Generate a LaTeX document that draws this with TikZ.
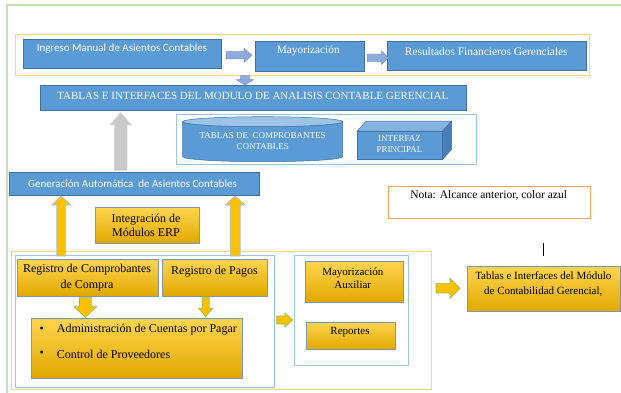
\documentclass[tikz,border=0pt]{standalone}
\usepackage{fontspec}
\setmainfont{Liberation Serif}
\newfontfamily\calib{Carlito}
\definecolor{boxblue}{HTML}{5B9BD5}
\definecolor{boxedge}{HTML}{41719C}
\definecolor{cyltop}{HTML}{9DC3E6}
\definecolor{cubetop}{HTML}{86B4E0}
\definecolor{cubeside}{HTML}{4A7EBB}
\definecolor{frameyel}{HTML}{FFD966}
\definecolor{framegreen}{HTML}{C5E0B4}
\definecolor{frameblue}{HTML}{9DC3E6}
\definecolor{arrblue}{HTML}{8FAADC}
\definecolor{arrblueedge}{HTML}{7393CF}
\definecolor{gold}{HTML}{FFC000}
\definecolor{goldtop}{HTML}{FFD54F}
\definecolor{goldbot}{HTML}{E0A800}
\definecolor{goldedge}{HTML}{7F95B5}
\definecolor{greenedge}{HTML}{8CC152}
\definecolor{notaedge}{HTML}{F4A460}
\definecolor{grayfill}{HTML}{C9C9C9}
\definecolor{grayedge}{HTML}{DDDDDD}
\newcommand{\blockR}[7]{\draw[#1] (#2,#5-#6) -- (#3,#5-#6) -- (#3,#5-#7) -- (#4,#5) -- (#3,#5+#7) -- (#3,#5+#6) -- (#2,#5+#6) -- cycle;}
\newcommand{\blockV}[7]{\draw[#1] (#5-#6,#2) -- (#5-#6,#3) -- (#5-#7,#3) -- (#5,#4) -- (#5+#7,#3) -- (#5+#6,#3) -- (#5+#6,#2) -- cycle;}
\tikzset{
  bluebox/.style={draw=boxedge, fill=boxblue, line width=0.6pt, inner sep=0pt},
  goldbox/.style={draw=goldedge, top color=goldtop, middle color=gold, bottom color=goldbot, line width=0.6pt, inner sep=0pt},
  txt/.style={inner sep=0pt, align=center},
  wtxt/.style={txt, text=white},
  yframe/.style={draw=frameyel, line width=0.9pt},
  bframe/.style={draw=frameblue, line width=0.9pt},
  bluearr/.style={fill=arrblue, draw=arrblueedge, line width=0.5pt},
  grayarr/.style={fill=grayfill, draw=grayedge, line width=0.6pt},
  goldup/.style={fill=gold, draw=frameblue, line width=0.7pt},
  greenarr/.style={fill=gold, draw=greenedge, line width=0.7pt}
}
\begin{document}
\begin{tikzpicture}[x=1pt,y=-1pt]
\useasboundingbox (0,0) rectangle (621,392);
\clip (0,0) rectangle (621,392);
% outer green frame
\draw[draw=framegreen, line width=1.5pt] (7,5) rectangle (640,400);
% top yellow frame
\draw[yframe] (15.7,34.7) rectangle (589.7,75);

\node[bluebox, minimum width=198pt, minimum height=29.7pt] (ingreso) at (122,53.85) {};
\node[wtxt, font=\calib\fontsize{11}{13}\selectfont] (ingresoT) at (122,49) {Ingreso Manual de Asientos Contables};
\node[bluebox, minimum width=109pt, minimum height=30.7pt] (mayor) at (309.5,56.35) {};
\node[wtxt, font=\fontsize{11.3}{13}\selectfont] (mayorT) at (308.3,50.7) {Mayorización};
\node[bluebox, minimum width=198.3pt, minimum height=29.4pt] (result) at (486.85,56) {};
\node[wtxt, font=\fontsize{11.4}{13}\selectfont] (resultT) at (486.3,51.7) {Resultados Financieros Gerenciales};

\blockR{bluearr}{226}{244}{252}{55.3}{3.6}{7}
\blockR{bluearr}{367}{381.5}{388.3}{57.7}{3.6}{6.7}
\blockV{bluearr}{75.5}{79.5}{85}{245}{4.3}{8.6}

\node[bluebox, minimum width=426pt, minimum height=24.3pt] (tablas) at (253.7,97.85) {};
\node[wtxt, font=\fontsize{11}{13}\selectfont] (tablasT) at (252.8,96) {TABLAS E INTERFACES DEL MODULO DE ANALISIS CONTABLE GERENCIAL};

% gray arrow
\blockV{grayarr}{170.7}{125}{112.3}{120.7}{6.35}{10.85}

% light blue frame with cylinder and cube
\draw[bframe] (176.7,114) rectangle (476,164.3);
\filldraw[fill=boxblue, draw=boxedge, line width=0.5pt] (182.7,121.7) -- (182.7,156.7) arc[start angle=180, end angle=0, x radius=80, y radius=5] -- (342.7,121.7) arc[start angle=0, end angle=180, x radius=80, y radius=5] -- cycle;
\filldraw[fill=cyltop, draw=boxedge, line width=0.5pt] (262.7,121.7) ellipse [x radius=80, y radius=5];
\node[wtxt, font=\fontsize{9}{11}\selectfont] (cylT) at (262.7,141.2) {TABLAS DE\ \ COMPROBANTES\\CONTABLES};

\filldraw[fill=boxblue, draw=boxedge, line width=0.5pt] (357.3,131) rectangle (442.7,159.3);
\filldraw[fill=cubetop, draw=boxedge, line width=0.5pt] (357.3,131) -- (366.3,121) -- (451.7,121) -- (442.7,131) -- cycle;
\filldraw[fill=cubeside, draw=boxedge, line width=0.5pt] (442.7,131) -- (451.7,121) -- (451.7,149.3) -- (442.7,159.3) -- cycle;
\node[wtxt, font=\fontsize{9}{11}\selectfont] (cubeT) at (399.5,143.8) {INTERFAZ\\PRINCIPAL};

% generation bar
\node[bluebox, minimum width=250pt, minimum height=23.4pt] (gen) at (134,184) {};
\node[wtxt, font=\calib\fontsize{11}{13}\selectfont] (genT) at (132.5,183.3) {Generación Automática\ \ de Asientos Contables};

\node[goldbox, minimum width=104.3pt, minimum height=35.6pt] (integ) at (147.15,225.5) {};
\node[txt, font=\fontsize{12}{14}\selectfont] (integT) at (146,225.3) {Integración de\\Módulos ERP};

% nota
\node[draw=notaedge, line width=0.9pt, minimum width=202.4pt, minimum height=32.3pt, inner sep=0pt] (nota) at (489.5,202.15) {};
\node[txt, font=\fontsize{11.5}{13}\selectfont] (notaT) at (488.7,195.7) {Nota: Alcance anterior, color azul};
\coordinate (tickA) at (543.3,243);
\coordinate (tickB) at (543.3,255.7);
\draw[line width=0.7pt] (tickA) -- (tickB);

% bottom frames
\draw[yframe] (11.7,251.7) rectangle (431.7,389);
\draw[bframe] (15,255.3) rectangle (274,387);
\draw[bframe] (294.3,255) rectangle (408.3,365.3);

% up arrows
\blockV{goldup}{256}{205}{196}{61.2}{4.5}{9.5}
\blockV{goldup}{256}{205}{196}{235.2}{5}{9.85}

\node[goldbox, minimum width=140.7pt, minimum height=37.4pt] (regcomp) at (87.65,278) {};
\node[txt, font=\fontsize{12}{16}\selectfont] (regcompT) at (87,278) {Registro de Comprobantes\\de Compra};
\node[goldbox, minimum width=105.7pt, minimum height=37.4pt] (regpag) at (214.85,278) {};
\node[txt, font=\fontsize{12}{14}\selectfont] (regpagT) at (214.5,271.7) {Registro de Pagos};

\blockV{greenarr}{297.3}{306.7}{317.3}{85.3}{5.85}{11.3}
\blockV{greenarr}{297}{308.3}{316.7}{205.7}{3.5}{7}

\node[goldbox, minimum width=210.6pt, minimum height=60pt] (admin) at (137,348.3) {};
\node[txt, font=\fontsize{12}{14}\selectfont] (bul1) at (41.7,329.3) {\textbullet};
\node[txt, anchor=west, font=\fontsize{12}{14}\selectfont] (adminT) at (56.7,329.3) {Administración de Cuentas por Pagar};
\node[txt, font=\fontsize{12}{14}\selectfont] (bul2) at (41.7,354) {\textbullet};
\node[txt, anchor=west, font=\fontsize{12}{14}\selectfont] (provT) at (56.7,354) {Control de Proveedores};

\blockR{greenarr}{276.7}{285}{292.7}{320}{4}{7}

\node[goldbox, minimum width=98pt, minimum height=41pt] (mayaux) at (354.7,281.8) {};
\node[txt, font=\fontsize{11}{13.3}\selectfont] (mayauxT) at (352.8,278.3) {Mayorización\\Auxiliar};
\node[goldbox, minimum width=88.3pt, minimum height=27.3pt] (reportes) at (350.85,335.65) {};
\node[txt, font=\fontsize{11}{13}\selectfont] (reportesT) at (350,332.3) {Reportes};

\blockR{greenarr}{436}{450}{460}{288.3}{4.65}{10}

\node[goldbox, minimum width=152.3pt, minimum height=45.7pt] (tabcont) at (543.85,288.85) {};
\node[txt, font=\fontsize{11}{15}\selectfont] (tabcontT) at (543.3,284.2) {Tablas e Interfaces del Módulo\\de Contabilidad Gerencial,};
\end{tikzpicture}
\end{document}
